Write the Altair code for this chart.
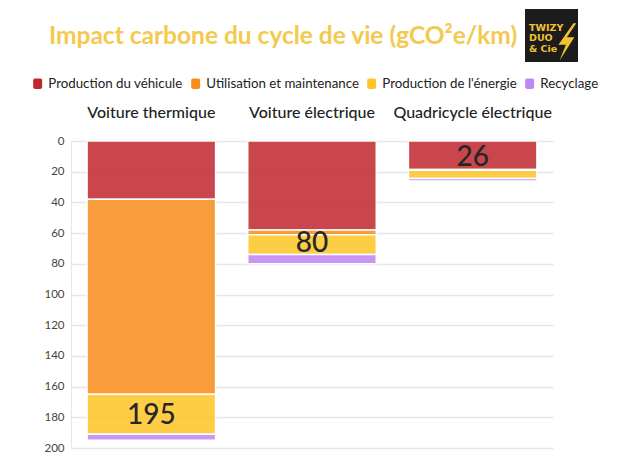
import altair as alt
import pandas as pd

vehicles = ["Voiture thermique", "Voiture électrique", "Quadricycle électrique"]
phases = ["Production du véhicule", "Utilisation et maintenance", "Production de l'énergie", "Recyclage"]
colors = ["#C0282D", "#F98C1B", "#FDC526", "#BF86F5"]

production = [38, 58, 18.5]
utilisation = [127, 3, 0.5]
energie = [26, 13, 5.5]
recyclage = [4, 6, 1.5]

totals = [195, 80, 26]
label_at = [179, 67, 11]

rows = []
for i, v in enumerate(vehicles):
    for j, (p, vals) in enumerate(zip(phases, [production, utilisation, energie, recyclage])):
        rows.append({"vehicule": v, "phase": p, "valeur": vals[i], "ordre": j})
df = pd.DataFrame(rows)
lab = pd.DataFrame({"vehicule": vehicles, "total": [str(t) for t in totals], "pos": label_at})
one = pd.DataFrame({"a": [0]})

FONT = "Lato"

x_axis = alt.Axis(orient="top", ticks=False, domain=False, labelAngle=0,
                  labelFontSize=16, labelColor="#222222", labelFont=FONT,
                  labelPadding=21, labelFontWeight=500)
x_scale = alt.Scale(paddingInner=0.2, paddingOuter=0.1)
y_axis = alt.Axis(values=list(range(0, 201, 20)), ticks=False, labelFontSize=11.5,
                  labelColor="#444444", labelFont=FONT, labelPadding=7,
                  labelOverlap=False,
                  domainColor="#e6e6e6", gridColor="#e6e6e6", gridWidth=1.5)
y_scale = alt.Scale(domain=[0, 200], reverse=True, nice=False)

bars = alt.Chart(df).mark_bar(opacity=0.85, stroke="white", strokeWidth=1.5).encode(
    x=alt.X("vehicule:N", sort=vehicles, title=None, scale=x_scale, axis=x_axis),
    y=alt.Y("valeur:Q", stack="zero", title=None, scale=y_scale, axis=y_axis),
    color=alt.Color("phase:N", scale=alt.Scale(domain=phases, range=colors), title=None,
                    legend=alt.Legend(orient="none", legendX=-40, legendY=-64, direction="horizontal",
                                      labelFontSize=13.3, labelFont=FONT, labelColor="#222222",
                                      symbolType="M-0.5,-1 h1 a0.35,0.35 0 0 1 0.35,0.35 v1.3 a0.35,0.35 0 0 1 -0.35,0.35 h-1 a0.35,0.35 0 0 1 -0.35,-0.35 v-1.3 a0.35,0.35 0 0 1 0.35,-0.35 Z",
                                      symbolSize=110, symbolOpacity=1, symbolStrokeWidth=0,
                                      columnPadding=6, labelOffset=4)),
    order=alt.Order("ordre:Q"),
)

labels = alt.Chart(lab).mark_text(fontSize=28, color="#262626", font=FONT, fontWeight=500).encode(
    x=alt.X("vehicule:N", sort=vehicles, title=None, scale=x_scale, axis=x_axis),
    y=alt.Y("pos:Q", title=None, scale=y_scale, axis=y_axis),
    text="total:N",
)

title = alt.Chart(one).mark_text(text="Impact carbone du cycle de vie (gCO²e/km)", fontSize=24.5,
                                 fontWeight="bold", color="#F3C94F", font=FONT,
                                 align="center", baseline="middle").encode(
    x=alt.value(212), y=alt.value(-104))

logo_bg = alt.Chart(one).mark_rect(color="#1c1c1c").encode(
    x=alt.value(454), x2=alt.value(507), y=alt.value(-132), y2=alt.value(-79))

logo_txt = []
for t, yy in [("TWIZY", -113), ("DUO", -103), ("& Cie", -92)]:
    logo_txt.append(alt.Chart(one).mark_text(text=t, fontSize=9.5, fontWeight="bold", color="#F2C230",
                                             font="DejaVu Sans", align="left", baseline="middle").encode(
        x=alt.value(458), y=alt.value(yy)))

bolt = alt.Chart(one).mark_point(
    shape="M0.45,-1 L-0.35,0.15 L0.05,0.15 L-0.3,1 L0.5,-0.25 L0.1,-0.25 L0.6,-1 Z",
    filled=True, color="#F2C230", opacity=1, size=1400, strokeWidth=0).encode(
    x=alt.value(494), y=alt.value(-99))

chart = alt.layer(bars, labels, title, logo_bg, *logo_txt, bolt).properties(
    width=482, height=307,
    padding={"left": 63, "top": 133, "right": 79, "bottom": 8},
    autosize=alt.AutoSizeParams(type="none"),
).configure_view(stroke=None)

chart.save("out.html", embed_options={"renderer": "svg", "actions": False})
